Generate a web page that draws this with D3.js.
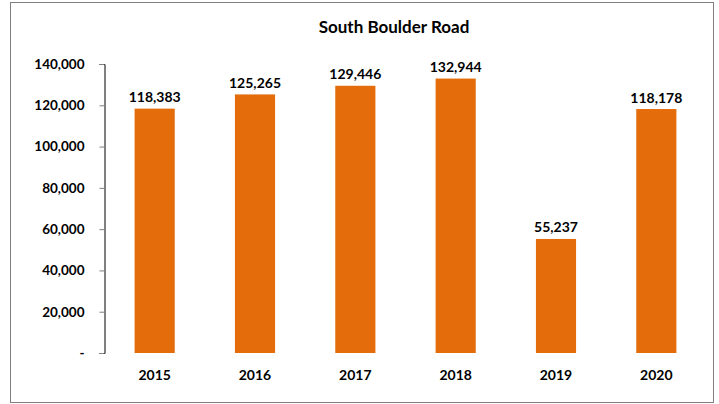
<!DOCTYPE html>
<html lang="en">
<head>
  <meta charset="UTF-8" />
  <title>South Boulder Road</title>
  <script src="https://d3js.org/d3.v7.min.js"></script>
  <style>
    body {
      margin: 0;
      background: #ffffff;
    }
    text {
      font-family: Lato, 'Open Sans', sans-serif;
      font-weight: bold;
      fill: #000000;
    }
  </style>
</head>
<body>
  <div id="chart"></div>

  <script>
    const years = ["2015", "2016", "2017", "2018", "2019", "2020"];
    const volumes = [118383, 125265, 129446, 132944, 55237, 118178];
    const yTicks = [0, 20000, 40000, 60000, 80000, 100000, 120000, 140000];

    const width = 719;
    const height = 404;

    const svg = d3.select("#chart").append("svg")
      .attr("width", width)
      .attr("height", height);

    // chart frame
    svg.append("rect")
      .attr("x", 10.5)
      .attr("y", 2.5)
      .attr("width", 703)
      .attr("height", 400)
      .attr("fill", "#ffffff")
      .attr("stroke", "#7f7f7f")
      .attr("stroke-width", 1);

    const x = d3.scaleBand()
      .domain(years)
      .range([104.5, 706.5])
      .paddingInner(0.6)
      .paddingOuter(0.3);

    const y = d3.scaleLinear()
      .domain([0, 140000])
      .range([353, 64]);

    const fmt = d3.format(",");

    // y axis
    const yAxis = d3.axisLeft(y)
      .tickValues(yTicks)
      .tickSize(5)
      .tickPadding(15)
      .tickFormat(d => d === 0 ? "-" : fmt(d));

    const gy = svg.append("g")
      .attr("transform", "translate(104.5,0)")
      .call(yAxis);

    gy.select(".domain").attr("stroke", "#000000");
    gy.selectAll(".tick line").attr("stroke", "#7f7f7f");
    gy.selectAll(".tick text")
      .attr("font-size", 13.5)
      .style("font-family", "Lato, 'Open Sans', sans-serif")
      .style("font-weight", "bold");

    // bars
    svg.selectAll("rect.bar")
      .data(volumes)
      .enter().append("rect")
      .attr("class", "bar")
      .attr("x", (d, i) => x(years[i]))
      .attr("y", d => y(d))
      .attr("width", x.bandwidth())
      .attr("height", d => y(0) - y(d))
      .attr("fill", "#e46c0a");

    // value labels
    svg.selectAll("text.val")
      .data(volumes)
      .enter().append("text")
      .attr("class", "val")
      .attr("x", (d, i) => x(years[i]) + x.bandwidth() / 2)
      .attr("y", d => y(d) - 6.5)
      .attr("text-anchor", "middle")
      .attr("font-size", 14)
      .text(d => fmt(d));

    // x labels
    svg.selectAll("text.year")
      .data(years)
      .enter().append("text")
      .attr("class", "year")
      .attr("x", d => x(d) + x.bandwidth() / 2)
      .attr("y", 379.5)
      .attr("text-anchor", "middle")
      .attr("font-size", 14)
      .text(d => d);

    // title
    svg.append("text")
      .attr("x", 394)
      .attr("y", 32.5)
      .attr("text-anchor", "middle")
      .attr("font-size", 17)
      .text("South Boulder Road");
  </script>
</body>
</html>
